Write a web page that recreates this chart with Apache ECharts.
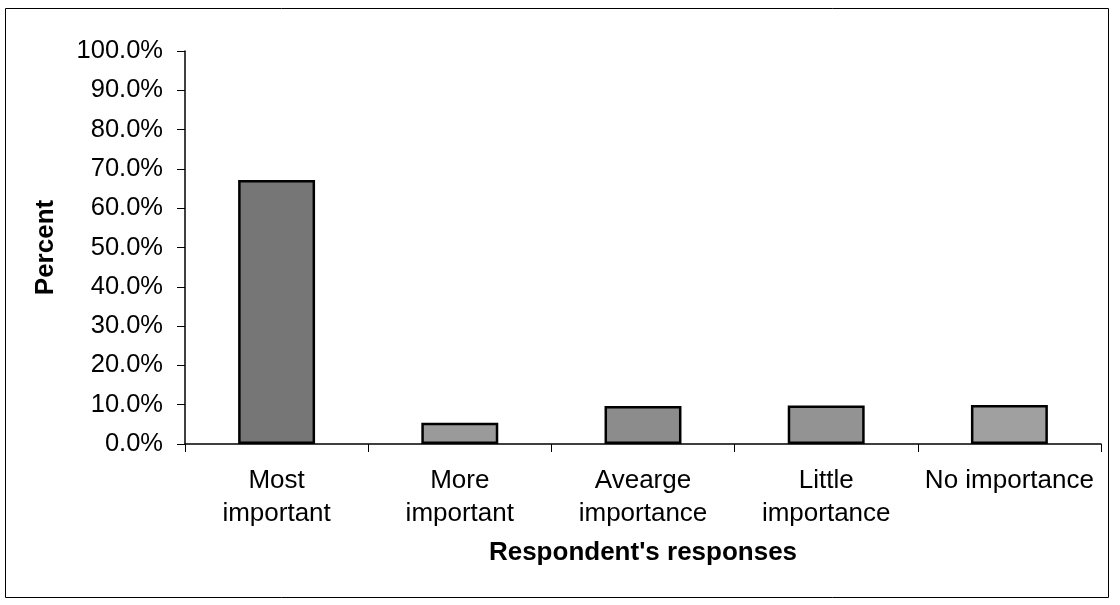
<!DOCTYPE html>
<html><head><meta charset="utf-8">
<script src="https://cdn.jsdelivr.net/npm/echarts@6/dist/echarts.min.js"></script>
<style>html,body{margin:0;padding:0;background:#fff}#c{width:1120px;height:605px}</style>
</head><body><div id="c"></div>
<script>
const categories = ["Most\nimportant", "More\nimportant", "Avearge\nimportance", "Little\nimportance", "No importance"];
const values = [67.2, 5.4, 9.7, 9.8, 9.9];
const barColors = ["#767676", "#9a9a9a", "#8c8c8c", "#939393", "#a0a0a0"];
const yTicks = [0, 10, 20, 30, 40, 50, 60, 70, 80, 90, 100];

const chart = echarts.init(document.getElementById('c'), null, {renderer: 'canvas'});
const font = 'Liberation Sans, Arial, sans-serif';
chart.setOption({
  animation: false,
  graphic: [{type: 'rect', shape: {x: 5.5, y: 8.5, width: 1103, height: 589}, style: {fill: 'none', stroke: '#000', lineWidth: 1}}],
  grid: {left: 185, right: 19, top: 51, bottom: 161},
  xAxis: {
    type: 'category', data: categories,
    axisLine: {lineStyle: {color: '#000', width: 1.5}},
    axisTick: {show: true, length: 8, lineStyle: {color: '#000'}},
    axisLabel: {interval: 0, hideOverlap: false, color: '#000', fontSize: 26, fontFamily: font, lineHeight: 33, margin: 20},
    name: "Respondent's responses", nameLocation: 'middle', nameGap: 96,
    nameTextStyle: {color: '#000', fontSize: 26, fontWeight: 'bold', fontFamily: font}
  },
  yAxis: {
    type: 'value', min: 0, max: 100, interval: 10,
    axisLine: {show: true, lineStyle: {color: '#000', width: 1.5}},
    axisTick: {show: true, length: 8, lineStyle: {color: '#000'}},
    splitLine: {show: false},
    axisLabel: {color: '#000', fontSize: 25.5, fontFamily: font, margin: 22,
      formatter: v => yTicks.includes(v) ? v.toFixed(1) + '%' : ''},
    name: 'Percent', nameLocation: 'middle', nameGap: 126, nameRotate: 90,
    nameTextStyle: {color: '#000', fontSize: 26, fontWeight: 'bold', fontFamily: font}
  },
  series: [{
    type: 'bar', barWidth: '42%',
    data: values.map((v, i) => ({value: v, itemStyle: {color: barColors[i]}})),
    itemStyle: {borderColor: '#000', borderWidth: 2.5}
  }]
});
</script></body></html>
